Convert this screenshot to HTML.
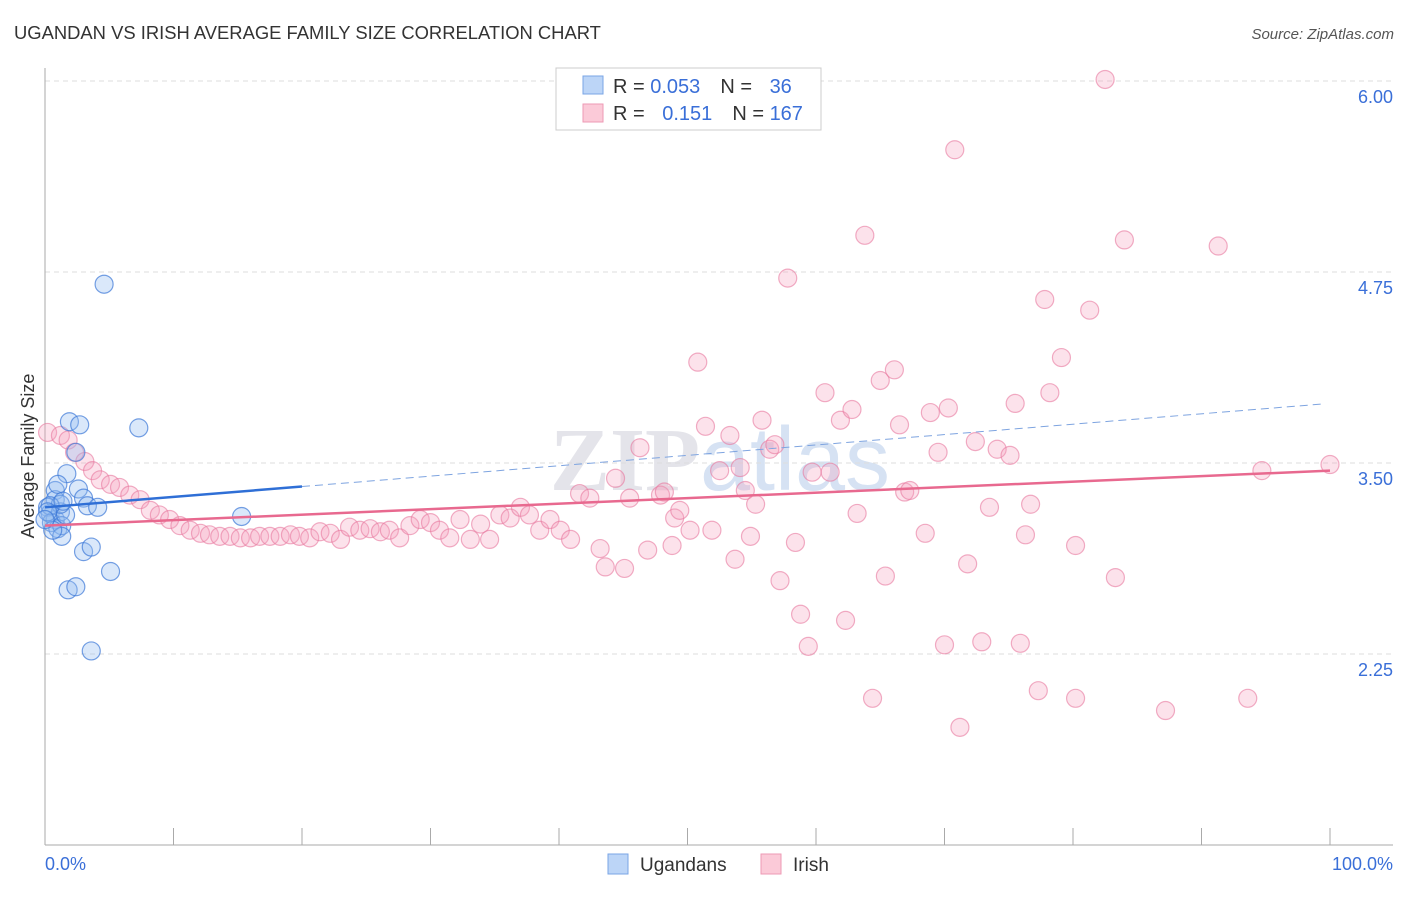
<!DOCTYPE html>
<html><head><meta charset="utf-8"><style>
body{margin:0;background:#fff;font-family:"Liberation Sans",sans-serif;}
</style></head><body>
<svg id="c" width="1406" height="892" xmlns="http://www.w3.org/2000/svg" style="font-family:'Liberation Sans',sans-serif">
<text x="14" y="39" font-size="18.4" fill="#333">UGANDAN VS IRISH AVERAGE FAMILY SIZE CORRELATION CHART</text>
<text x="1394" y="39" font-size="15" fill="#555" font-style="italic" text-anchor="end">Source: ZipAtlas.com</text>
<text x="720" y="490" font-size="90" fill="#e4e4ea" text-anchor="middle" font-family="Liberation Serif" font-weight="bold">ZIP<tspan font-family="Liberation Sans" font-weight="normal" fill="#d6e2f3">atlas</tspan></text>
<g id="grid"></g>
<g id="axes"></g>
<g id="marks"></g>
<g>
<rect x="556" y="68" width="265" height="62" fill="#fff" stroke="#ccc"/>
<rect x="583" y="76" width="20" height="18" fill="#bcd5f7" stroke="#7aa5e6"/>
<rect x="583" y="104" width="20" height="18" fill="#fbcad8" stroke="#ee9ab4"/>
<text x="613" y="93" font-size="20" fill="#333">R = <tspan fill="#3a6fd8">0.053</tspan><tspan dx="20">N = </tspan><tspan dx="12" fill="#3a6fd8">36</tspan></text>
<text x="613" y="120" font-size="20" fill="#333">R = <tspan dx="12" fill="#3a6fd8">0.151</tspan><tspan dx="20">N = </tspan><tspan fill="#3a6fd8">167</tspan></text>
</g>
<g>
<rect x="608" y="854" width="20" height="20" fill="#bcd5f7" stroke="#7aa5e6"/>
<text x="640" y="871" font-size="19" fill="#333">Ugandans</text>
<rect x="761" y="854" width="20" height="20" fill="#fbcad8" stroke="#ee9ab4"/>
<text x="793" y="871" font-size="19" fill="#333">Irish</text>
</g>
</svg>
<script>
const yTicks=[2.25,3.50,4.75,6.00];
const yTickLabels=["2.25","3.50","4.75","6.00"];
const xTicks=[0,10,20,30,40,50,60,70,80,90,100];
const ugX=[0.8,0.8,0.2,0.4,0.8,1.2,0.5,1.0,1.3,1.6,1.2,1.3,1.7,1.9,2.4,2.7,2.6,3.0,3.3,4.1,3.0,3.6,1.8,2.4,5.1,4.6,7.3,15.3,3.6,0.4,0.6,0.2,1.0,1.4,0];
const ugY=[3.32,3.26,3.21,3.17,3.13,3.18,3.11,3.07,3.09,3.16,3.23,3.02,3.43,3.77,3.57,3.75,3.33,3.27,3.22,3.21,2.92,2.95,2.67,2.69,2.79,4.67,3.73,3.15,2.27,3.22,3.06,3.18,3.36,3.25,3.13];
const irX=[0.2,1.2,1.8,2.3,3.1,3.7,4.3,5.1,5.8,6.6,7.4,8.2,8.9,9.7,10.5,11.3,12.1,12.8,13.6,14.4,15.2,16.0,16.7,17.5,18.3,19.1,19.8,20.6,21.4,22.2,23.0,23.7,24.5,25.3,26.1,26.8,27.6,28.4,29.2,30.0,30.7,31.5,32.3,33.1,33.9,34.6,35.4,36.2,37.0,37.7,38.5,39.3,40.1,40.9,41.6,42.4,43.2,44.4,45.1,45.5,46.3,47.9,48.2,49.0,49.4,50.2,50.8,51.4,51.9,52.5,53.3,53.7,54.1,54.5,54.9,55.3,55.8,56.4,56.8,57.2,57.8,58.4,58.8,59.4,59.7,60.7,61.1,61.9,62.3,62.8,63.2,63.8,64.4,65.0,65.4,66.1,66.5,66.9,67.3,68.5,68.9,69.5,70.0,70.3,70.8,71.2,71.8,72.4,72.9,73.5,74.1,75.1,75.5,75.9,76.3,76.7,77.3,77.8,78.2,79.1,80.2,80.2,81.3,82.5,83.3,84.0,87.2,91.3,93.6,94.7,100,43.6,46.9,48.8];
const irY=[3.70,3.68,3.65,3.57,3.51,3.45,3.39,3.36,3.34,3.29,3.26,3.19,3.16,3.13,3.09,3.06,3.04,3.03,3.02,3.02,3.01,3.01,3.02,3.02,3.02,3.03,3.02,3.01,3.05,3.04,3.00,3.08,3.06,3.07,3.05,3.06,3.01,3.09,3.13,3.11,3.06,3.01,3.13,3.00,3.10,3.00,3.16,3.14,3.21,3.16,3.06,3.13,3.06,3.00,3.30,3.27,2.94,3.40,2.81,3.27,3.60,3.29,3.31,3.14,3.19,3.06,4.16,3.74,3.06,3.45,3.68,2.87,3.47,3.32,3.02,3.23,3.78,3.59,3.62,2.73,4.71,2.98,2.51,2.30,3.44,3.96,3.44,3.78,2.47,3.85,3.17,4.99,1.96,4.04,2.76,4.11,3.75,3.31,3.32,3.04,3.83,3.57,2.31,3.86,5.55,1.77,2.84,3.64,2.33,3.21,3.59,3.55,3.89,2.32,3.03,3.23,2.01,4.57,3.96,4.19,1.96,2.96,4.50,6.01,2.75,4.96,1.88,4.92,1.96,3.45,3.49,2.82,2.93,2.96];
const ugTrend=[3.21,0.0068]; // intercept, slope per %
const irTrend=[3.09,0.0036];
const X=v=>45+v*12.85, Y=v=>654-(v-2.25)*152.8;
const NS="http://www.w3.org/2000/svg";
function mk(t,a,p){const e=document.createElementNS(NS,t);for(const k in a)e.setAttribute(k,a[k]);p.appendChild(e);return e;}
const grid=document.getElementById('grid'),axes=document.getElementById('axes'),marks=document.getElementById('marks');
yTicks.forEach((t,i)=>{const l=mk('line',{x1:45,x2:1393,y1:Y(t),y2:Y(t),stroke:'#ddd','stroke-dasharray':'5,4'},grid);


const tx=mk('text',{x:1393,y:Y(t)+22,'font-size':18,fill:'#3a6fd8','text-anchor':'end'},axes);tx.textContent=yTickLabels[i];

});
mk('line',{x1:45,x2:45,y1:68,y2:845,stroke:'#aaa'},axes);
mk('line',{x1:45,x2:1393,y1:845,y2:845,stroke:'#aaa'},axes);
xTicks.forEach(t=>{const l=mk('line',{x1:X(t),x2:X(t),y1:828,y2:845,stroke:'#aaa'},axes);

});
let a=mk('text',{x:45,y:870,'font-size':18,fill:'#3a6fd8'},axes);a.textContent='0.0%';


a=mk('text',{x:1393,y:870,'font-size':18,fill:'#3a6fd8','text-anchor':'end'},axes);a.textContent='100.0%';


a=mk('text',{x:34,y:456,'font-size':18,fill:'#333','text-anchor':'middle',transform:'rotate(-90 34 456)'},axes);a.textContent='Average Family Size';


irX.forEach((x,i)=>{const c=mk('circle',{cx:X(x),cy:Y(irY[i]),r:9,fill:'rgba(246,160,188,0.3)',stroke:'rgba(232,120,158,0.6)','stroke-width':1.2},marks);

});
ugX.forEach((x,i)=>{const c=mk('circle',{cx:X(x),cy:Y(ugY[i]),r:9,fill:'rgba(150,190,240,0.35)',stroke:'rgba(60,120,215,0.7)','stroke-width':1.2},marks);

});
const tf=(t,x)=>t[0]+t[1]*x;
let l=mk('line',{x1:X(0),y1:Y(tf(ugTrend,0)),x2:X(20),y2:Y(tf(ugTrend,20)),stroke:'#2f6fd6','stroke-width':2.5},marks);


l=mk('line',{x1:X(20),y1:Y(tf(ugTrend,20)),x2:X(99.6),y2:Y(tf(ugTrend,99.6)),stroke:'#7ea4e0','stroke-width':1,'stroke-dasharray':'8,5'},marks);


l=mk('line',{x1:X(0),y1:Y(tf(irTrend,0)),x2:X(100),y2:Y(tf(irTrend,100)),stroke:'#e8698f','stroke-width':2.5},marks);


</script>
</body></html>
